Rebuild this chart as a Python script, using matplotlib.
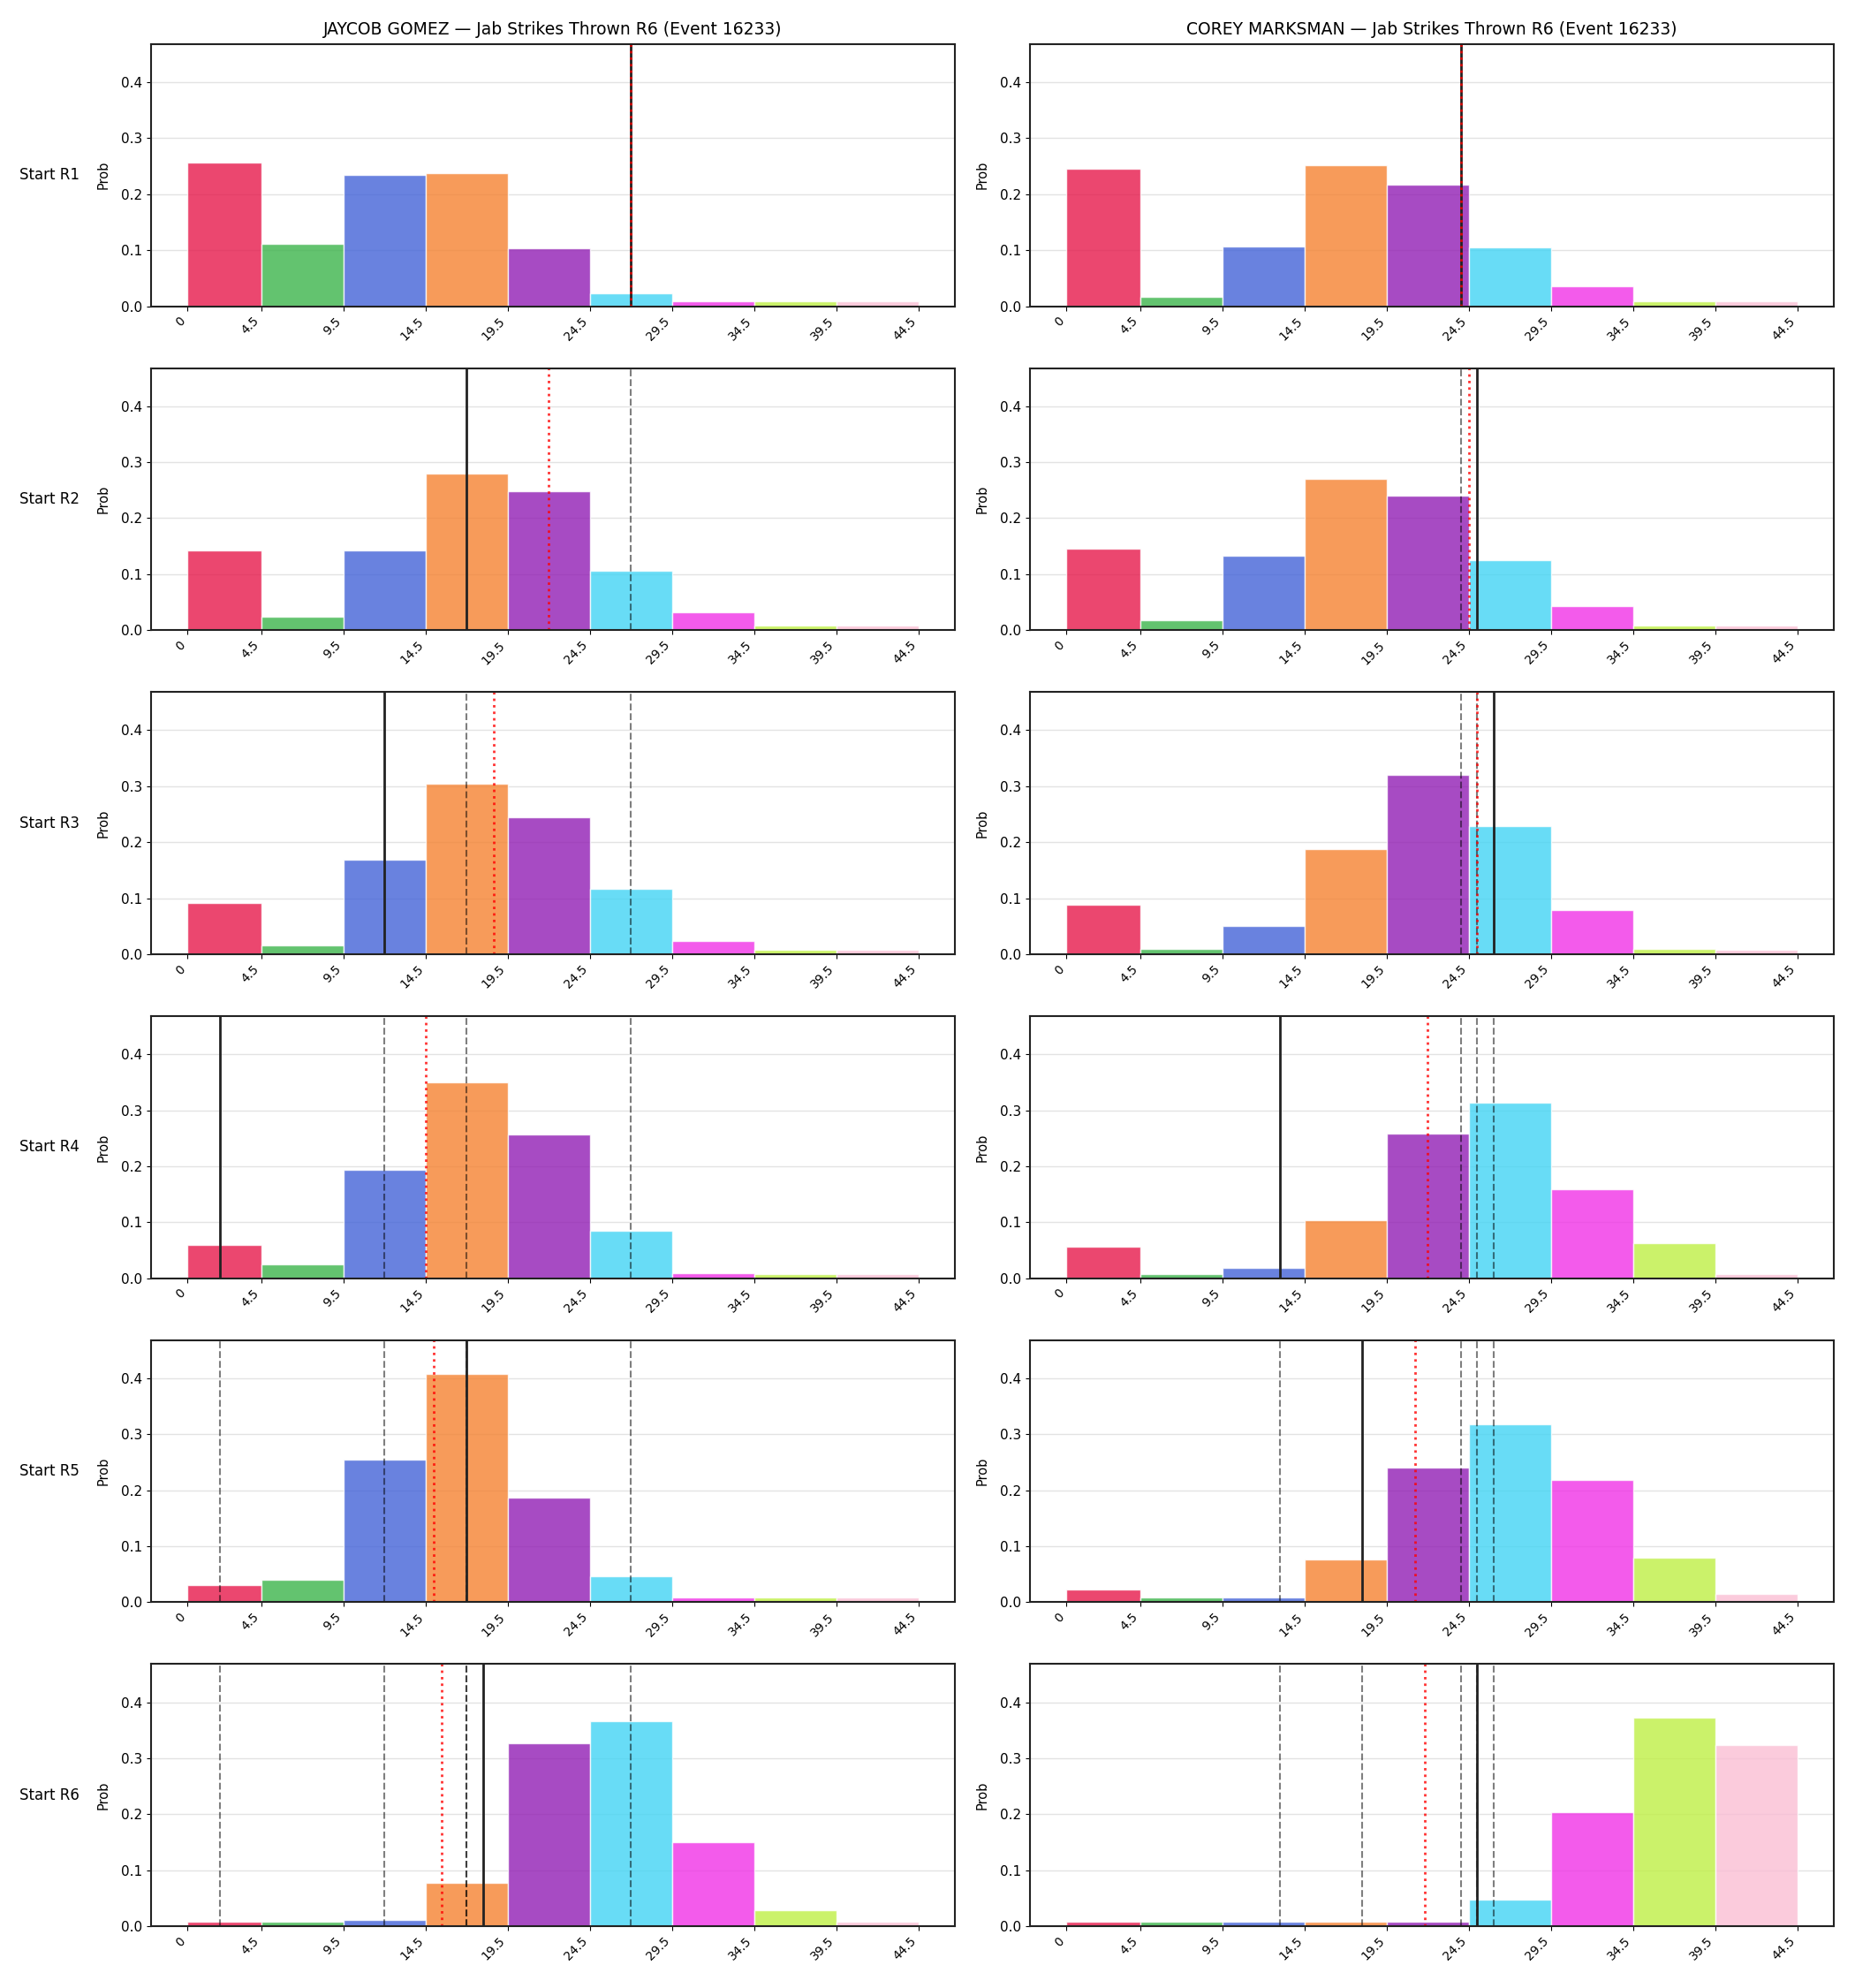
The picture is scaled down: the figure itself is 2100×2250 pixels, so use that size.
import matplotlib
matplotlib.use("Agg")
import matplotlib.pyplot as plt
import numpy as np

# bin edges of the jab-strike count
edges = [0, 4.5, 9.5, 14.5, 19.5, 24.5, 29.5, 34.5, 39.5, 44.5]
bin_colors = ['#e6194b', '#3cb44b', '#4363d8', '#f58231', '#911eb4',
              '#42d4f4', '#f032e6', '#bfef45', '#fabed4']

row_labels = ['Start R1', 'Start R2', 'Start R3', 'Start R4', 'Start R5', 'Start R6']

fighter_a = 'JAYCOB GOMEZ'
fighter_b = 'COREY MARKSMAN'
title_tail = 'Jab Strikes Thrown R6 (Event 16233)'

# probability per bin, one list per starting round
gomez_probs = [
    [0.256, 0.112, 0.235, 0.238, 0.104, 0.023, 0.008, 0.008, 0.008],
    [0.143, 0.024, 0.143, 0.279, 0.248, 0.106, 0.032, 0.009, 0.009],
    [0.091, 0.015, 0.169, 0.304, 0.245, 0.117, 0.024, 0.008, 0.008],
    [0.059, 0.024, 0.193, 0.349, 0.256, 0.084, 0.009, 0.008, 0.008],
    [0.030, 0.040, 0.255, 0.407, 0.186, 0.046, 0.009, 0.009, 0.009],
    [0.008, 0.008, 0.011, 0.078, 0.327, 0.366, 0.150, 0.028, 0.008],
]
marksman_probs = [
    [0.245, 0.016, 0.107, 0.251, 0.217, 0.105, 0.036, 0.008, 0.008],
    [0.145, 0.018, 0.133, 0.270, 0.241, 0.125, 0.043, 0.009, 0.009],
    [0.089, 0.009, 0.051, 0.188, 0.320, 0.229, 0.078, 0.009, 0.007],
    [0.057, 0.008, 0.019, 0.103, 0.259, 0.313, 0.159, 0.063, 0.008],
    [0.022, 0.009, 0.009, 0.076, 0.241, 0.318, 0.219, 0.080, 0.014],
    [0.008, 0.008, 0.008, 0.008, 0.008, 0.047, 0.203, 0.373, 0.323],
]

# jabs actually thrown in each round, and running average
gomez_rounds = [27, 17, 12, 2, 17, 18]
gomez_avg = [27.0, 22.0, 18.67, 14.5, 15.0, 15.5]
marksman_rounds = [24, 25, 26, 13, 18, 25]
marksman_avg = [24.0, 24.5, 25.0, 22.0, 21.2, 21.83]

columns = [
    (fighter_a, gomez_probs, gomez_rounds, gomez_avg),
    (fighter_b, marksman_probs, marksman_rounds, marksman_avg),
]

ymax = max(max(max(r) for r in gomez_probs), max(max(r) for r in marksman_probs)) * 1.15
lefts = edges[:-1]
widths = np.diff(edges)
tick_labels = [f"{e:g}" for e in edges]

fig, axes = plt.subplots(6, 2, figsize=(21, 22.5), dpi=100)
fig.subplots_adjust(left=0.0814, right=0.9886, top=0.9778, bottom=0.0311,
                    wspace=0.0934, hspace=0.2365)

for c, (name, probs, rounds, avgs) in enumerate(columns):
    for r in range(6):
        ax = axes[r, c]
        ax.set_axisbelow(True)
        ax.grid(axis='y', color='#e3e3e3', linewidth=1)
        ax.bar(lefts, probs[r], width=widths, align='edge', color=bin_colors,
               alpha=0.8, edgecolor='white', linewidth=1)
        # earlier rounds
        for v in rounds[:r]:
            ax.axvline(v, color='k', linestyle='--', linewidth=1.5, alpha=0.5)
        # this round
        ax.axvline(rounds[r], color='#222222', linestyle='-', linewidth=2)
        # average so far
        ax.axvline(avgs[r], color='red', linestyle=':', linewidth=2, alpha=0.8)

        ax.set_ylim(0, ymax)
        ax.set_xticks(edges)
        ax.set_xticklabels(tick_labels, rotation=45, ha='right', fontsize=10)
        ax.tick_params(axis='y', labelsize=11)
        ax.set_ylabel('Prob', fontsize=10.5, labelpad=9)
        for s in ax.spines.values():
            s.set_linewidth(1.5)
            s.set_color('#222222')
        if r == 0:
            ax.set_title(f"{name} \u2014 {title_tail}", fontsize=13.5, pad=8)
        if c == 0:
            ax.text(-0.089, 0.5, row_labels[r], transform=ax.transAxes,
                    ha='right', va='center', fontsize=12)

plt.savefig('out.png', dpi=100)
